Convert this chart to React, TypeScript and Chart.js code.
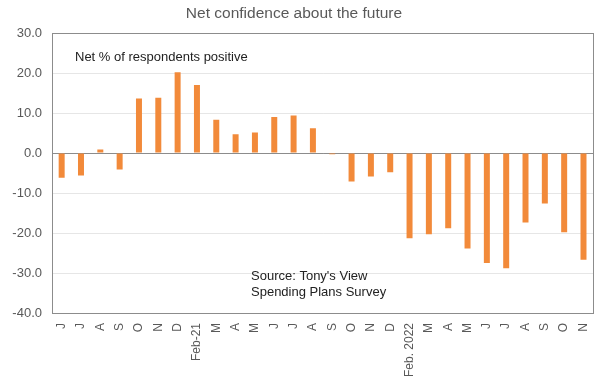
import React, { useEffect, useRef } from "react";
import { Chart, registerables } from "chart.js";

Chart.register(...registerables);

const categories = [
  "J", "J", "A", "S", "O", "N", "D", "Feb-21", "M", "A", "M", "J", "J", "A",
  "S", "O", "N", "D", "Feb. 2022", "M", "A", "M", "J", "J", "A", "S", "O", "N",
];
const netPositive = [
  -6.2, -5.6, 0.9, -4.1, 13.6, 13.8, 20.2, 17.0, 8.3, 4.7, 5.1, 9.0, 9.4, 6.2,
  -0.3, -7.1, -5.9, -4.8, -21.3, -20.3, -18.8, -23.9, -27.5, -28.8, -17.4, -12.6, -19.8, -26.7,
];
const titleText = "Net confidence about the future";
const noteText = "Net % of respondents positive";
const sourceLines = ["Source: Tony's View", "Spending Plans Survey"];

const FONT = "'Liberation Sans', Arial, sans-serif";

const overlayPlugin = {
  id: "overlay",
  afterDatasetsDraw(chart: any) {
    const { ctx, chartArea } = chart;
    ctx.save();
    ctx.strokeStyle = "#8c8c8c";
    ctx.lineWidth = 1;
    ctx.strokeRect(
      Math.round(chartArea.left) + 0.5,
      Math.round(chartArea.top) + 0.5,
      Math.round(chartArea.right - chartArea.left),
      Math.round(chartArea.bottom - chartArea.top)
    );
    ctx.fillStyle = "#595959";
    ctx.font = `15.5px ${FONT}`;
    ctx.textAlign = "center";
    ctx.textBaseline = "middle";
    ctx.fillText(titleText, 294, 14);
    ctx.fillStyle = "#222";
    ctx.font = `13px ${FONT}`;
    ctx.textAlign = "left";
    ctx.fillText(noteText, 75, 57);
    ctx.fillText(sourceLines[0], 251, 276);
    ctx.fillText(sourceLines[1], 251, 292);
    ctx.restore();
  },
};

export default function App() {
  const ref = useRef<HTMLCanvasElement>(null);
  useEffect(() => {
    if (!ref.current) return;
    const chart = new Chart(ref.current, {
      type: "bar",
      data: {
        labels: categories,
        datasets: [
          {
            data: netPositive,
            backgroundColor: "#f28a3a",
            barPercentage: 0.31,
            categoryPercentage: 1,
          },
        ],
      },
      options: {
        animation: false,
        responsive: false,
        layout: { padding: { top: 33, right: 6, left: 0, bottom: 0 } },
        plugins: { legend: { display: false }, tooltip: { enabled: false } },
        scales: {
          x: {
            grid: { display: false },
            border: { color: "#8c8c8c" },
            ticks: {
              minRotation: 90,
              maxRotation: 90,
              autoSkip: false,
              color: "#595959",
              font: { family: FONT, size: 12 },
              padding: 2,
            },
            afterFit(axis: any) {
              axis.height = 73;
            },
          },
          y: {
            min: -40,
            max: 30,
            ticks: {
              stepSize: 10,
              color: "#595959",
              font: { family: FONT, size: 13 },
              padding: 10,
              callback: (v: any) => Number(v).toFixed(1),
            },
            grid: {
              color: (c: any) => (c.tick && c.tick.value === 0 ? "#8c8c8c" : "#e6e6e6"),
              drawTicks: false,
            },
            border: { color: "#8c8c8c" },
            afterFit(axis: any) {
              axis.width = 52;
            },
          },
        },
      },
      plugins: [overlayPlugin],
    });
    return () => chart.destroy();
  }, []);
  return (
    <div style={{ position: "absolute", left: 0, top: 0, width: 600, height: 386, background: "#fff" }}>
      <canvas ref={ref} width={600} height={386} />
    </div>
  );
}
